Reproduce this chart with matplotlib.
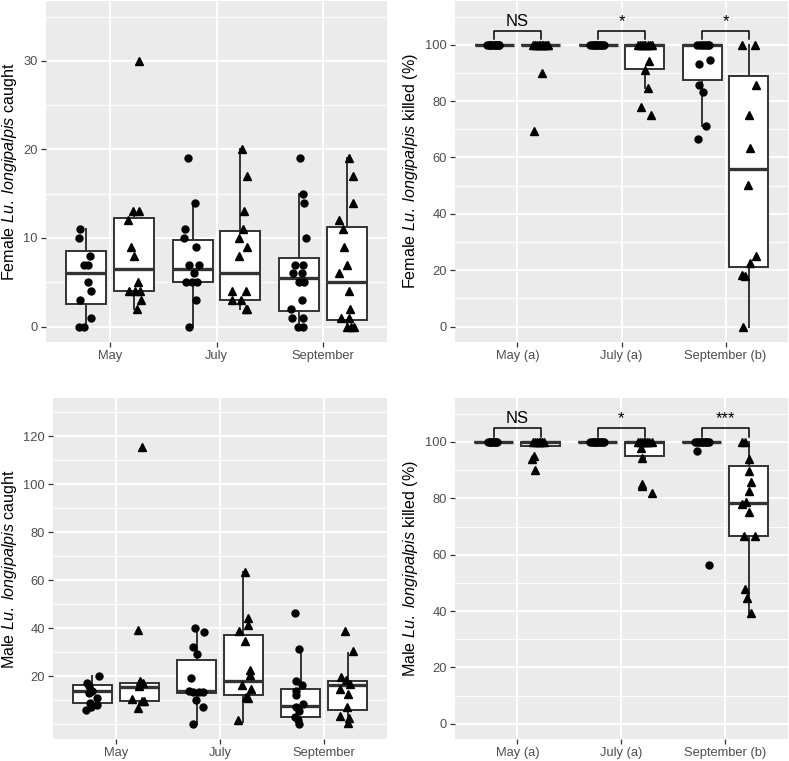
import matplotlib
matplotlib.use('Agg')
import matplotlib.pyplot as plt

plt.rcParams['font.family'] = ['Liberation Sans', 'DejaVu Sans']
plt.rcParams['mathtext.fontset'] = 'custom'
plt.rcParams['mathtext.rm'] = 'Liberation Sans'
plt.rcParams['mathtext.it'] = 'Liberation Sans:italic'

months = ['May', 'July', 'September']
months_sig = ['May (a)', 'July (a)', 'September (b)']

# ---- Female caught (circles = first group, triangles = second group) ----
fc_circ_vals = [
    [11, 10, 8, 7, 7, 5, 4, 3, 1, 0, 0],
    [19, 14, 11, 10, 9, 7, 7, 6, 5, 5, 5, 3, 0],
    [19, 15, 14, 10, 7, 7, 6, 6, 5, 5, 3, 2, 1, 1, 0, 0],
]
fc_circ_x = [
    [-0.283, -0.292, -0.188, -0.245, -0.207, -0.204, -0.179, -0.283, -0.182, -0.289, -0.248],
    [-0.267, -0.204, -0.295, -0.301, -0.192, -0.257, -0.160, -0.210, -0.283, -0.229, -0.185, -0.192, -0.261],
    [-0.217, -0.185, -0.179, -0.157, -0.267, -0.192, -0.283, -0.195, -0.226, -0.182, -0.201, -0.298,
     -0.295, -0.188, -0.232, -0.185],
]
fc_tri_vals = [
    [30, 13, 13, 12, 9, 8, 5, 4, 4, 4, 3, 2],
    [20, 17, 13, 11, 10, 9, 8, 4, 4, 3, 3, 2, 2],
    [19, 17, 14, 12, 11, 9, 7, 6, 4, 2, 1, 1, 0, 0, 0],
]
fc_tri_x = [
    [0.276, 0.220, 0.276, 0.170, 0.198, 0.229, 0.261, 0.182, 0.235, 0.286, 0.292, 0.257],
    [0.239, 0.289, 0.254, 0.251, 0.207, 0.286, 0.210, 0.148, 0.276, 0.148, 0.226, 0.273, 0.289],
    [0.242, 0.283, 0.283, 0.151, 0.188, 0.192, 0.223, 0.154, 0.248, 0.257, 0.166, 0.248, 0.226, 0.264, 0.292],
]
# box stats: whisker low, q1, median, q3, whisker high
fc_circ_box = [[0, 2.5, 6, 8.5, 11], [0, 5, 6.5, 9.75, 14], [0, 1.75, 5.5, 7.75, 15]]
fc_tri_box = [[2, 4, 6.5, 12.25, 13], [2, 3, 6, 10.75, 20], [0, 0.75, 5, 11.25, 19]]

# ---- Female killed (%) ----
fk_circ_vals = [
    [100, 100, 100, 100, 100, 100, 100, 100, 100, 100, 100, 100],
    [100, 100, 100, 100, 100, 100, 100, 100, 100, 100, 100, 100],
    [100, 100, 100, 100, 100, 100, 100, 94.5, 93.0, 85.6, 83.2, 71.2, 66.4],
]
fk_circ_x = [
    [-0.29, -0.27, -0.26, -0.245, -0.23, -0.22, -0.205, -0.19, -0.18, -0.175, -0.25, -0.21],
    [-0.30, -0.28, -0.265, -0.25, -0.235, -0.22, -0.21, -0.195, -0.18, -0.17, -0.24, -0.26],
    [-0.27, -0.25, -0.23, -0.21, -0.19, -0.17, -0.16, -0.152, -0.258, -0.252, -0.213, -0.187, -0.265],
]
fk_tri_vals = [
    [100, 100, 100, 100, 100, 100, 100, 100, 100, 100, 90, 69.3],
    [100, 100, 100, 100, 100, 100, 100, 100, 94.1, 90.9, 84.8, 77.9, 75.1],
    [100, 100, 85.8, 75.0, 63.4, 50.1, 25.1, 22.4, 18.3, 17.8, 0],
]
fk_tri_x = [
    [0.15, 0.17, 0.19, 0.205, 0.22, 0.235, 0.25, 0.265, 0.28, 0.29, 0.232, 0.158],
    [0.16, 0.18, 0.20, 0.215, 0.23, 0.25, 0.27, 0.29, 0.261, 0.226, 0.258, 0.184, 0.281],
    [0.161, 0.281, 0.290, 0.226, 0.239, 0.213, 0.290, 0.235, 0.155, 0.184, 0.168],
]
fk_circ_box = [[100, 100, 100, 100, 100], [100, 100, 100, 100, 100], [71.2, 87.4, 100, 100, 100]]
fk_tri_box = [[100, 100, 100, 100, 100], [84.8, 91.5, 100, 100, 100], [0, 21.0, 55.8, 88.9, 100]]

# ---- Male caught ----
mc_circ_vals = [
    [20, 17, 16, 14, 13, 11, 9, 8, 7, 6],
    [40.1, 38.2, 32.2, 29.2, 19.2, 14, 13.3, 13.3, 13.6, 10.2, 7.1, 0.2],
    [46.2, 31.2, 18.1, 16.3, 14, 12.1, 8.5, 7.1, 5.3, 2.9, 1.8, 0.2],
]
mc_circ_x = [
    [-0.157, -0.272, -0.262, -0.224, -0.259, -0.179, -0.252, -0.182, -0.240, -0.284],
    [-0.240, -0.150, -0.256, -0.220, -0.278, -0.297, -0.256, -0.198, -0.163, -0.227, -0.166, -0.262],
    [-0.278, -0.240, -0.275, -0.211, -0.268, -0.268, -0.204, -0.268, -0.243, -0.284, -0.256, -0.243],
]
mc_tri_vals = [
    [115.6, 39.3, 17.8, 17.1, 15.7, 10.4, 9.7, 9.7, 6.7],
    [63.3, 44.4, 41.4, 38.6, 34.6, 22.4, 20.6, 16.4, 14.5, 11.3, 10.8, 1.6],
    [38.6, 30.5, 19.6, 18.5, 16.8, 14.6, 12.4, 7.1, 3.5, 2.5, 0.4],
]
mc_tri_x = [
    [0.252, 0.217, 0.233, 0.265, 0.227, 0.157, 0.272, 0.256, 0.217],
    [0.243, 0.265, 0.268, 0.179, 0.236, 0.291, 0.291, 0.214, 0.294, 0.249, 0.268, 0.169],
    [0.201, 0.278, 0.163, 0.214, 0.252, 0.150, 0.227, 0.220, 0.147, 0.236, 0.230],
]
mc_circ_box = [[6, 8.8, 13.9, 16.3, 20], [0.2, 12.8, 13.9, 26.8, 40.1], [0.2, 3.1, 7.7, 14.6, 31.7]]
mc_tri_box = [[6.7, 9.7, 15.4, 17.1, 17.8], [1.1, 12.1, 18.1, 37.2, 63.3], [0.2, 6.0, 16.4, 18.1, 29.8]]

# ---- Male killed (%) ----
mk_circ_vals = [
    [100, 100, 100, 100, 100, 100, 100, 100, 100, 100],
    [100, 100, 100, 100, 100, 100, 100, 100, 100, 100, 100, 100],
    [100, 100, 100, 100, 100, 100, 100, 100, 100, 100, 96.7, 56.4],
]
mk_circ_x = [
    [-0.28, -0.265, -0.25, -0.24, -0.23, -0.22, -0.21, -0.2, -0.26, -0.215],
    [-0.30, -0.28, -0.265, -0.25, -0.235, -0.22, -0.21, -0.195, -0.18, -0.17, -0.24, -0.26],
    [-0.29, -0.27, -0.255, -0.24, -0.225, -0.21, -0.2, -0.185, -0.17, -0.16, -0.271, -0.155],
]
mk_tri_vals = [
    [100, 100, 100, 100, 100, 100, 100, 94.9, 94.0, 90.2],
    [100, 100, 100, 100, 100, 100, 100, 100, 97.9, 94.2, 85.0, 84.5, 81.9],
    [100, 100, 94.0, 89.6, 85.8, 82.5, 78.6, 77.9, 75.1, 66.8, 66.8, 47.7, 44.5, 39.2],
]
mk_tri_x = [
    [0.15, 0.17, 0.19, 0.205, 0.22, 0.24, 0.26, 0.161, 0.145, 0.171],
    [0.16, 0.18, 0.20, 0.215, 0.23, 0.25, 0.27, 0.29, 0.187, 0.197, 0.194, 0.203, 0.297],
    [0.161, 0.194, 0.226, 0.232, 0.245, 0.226, 0.197, 0.161, 0.229, 0.181, 0.281, 0.194, 0.210, 0.248],
]
mk_circ_box = [[100, 100, 100, 100, 100], [100, 100, 100, 100, 100], [100, 100, 100, 100, 100]]
mk_tri_box = [[98.4, 98.4, 100, 100, 100], [94.2, 94.9, 100, 100, 100], [39.2, 66.6, 78.5, 91.5, 100]]

sig_female = ['NS', '*', '*']
sig_male = ['NS', '*', '***']

DODGE = 0.225
BOXW = 0.375
DARK = '#333333'


def box_stats(rows):
    out = []
    for lo, q1, med, q3, hi in rows:
        out.append(dict(whislo=lo, q1=q1, med=med, q3=q3, whishi=hi, fliers=[]))
    return out


def draw_panel(ax, cvals, cx, tvals, tx, cbox, tbox, ylim, majors, minors, xlabels):
    ax.set_facecolor('#EBEBEB')
    for s in ax.spines.values():
        s.set_visible(False)
    ax.set_xlim(-0.6, 2.6)
    ax.set_ylim(*ylim)
    ax.set_xticks(range(3))
    ax.set_xticklabels(xlabels)
    ax.set_yticks(majors)
    ax.set_yticks(minors, minor=True)
    ax.grid(which='major', color='white', lw=1.3)
    ax.grid(which='minor', axis='y', color='white', lw=0.65)
    ax.set_axisbelow(True)
    ax.tick_params(which='major', length=3.3, width=0.9, color=DARK, labelcolor='#4D4D4D',
                   labelsize=9.3, pad=2.5)
    ax.tick_params(which='minor', length=0)

    props = dict(widths=BOXW, showcaps=False, showfliers=False, patch_artist=True,
                 manage_ticks=False, zorder=2,
                 boxprops=dict(facecolor='white', edgecolor=DARK, lw=1.4),
                 medianprops=dict(color=DARK, lw=2.4, solid_capstyle='butt'),
                 whiskerprops=dict(color=DARK, lw=1.4))
    ax.bxp(box_stats(cbox), positions=[i - DODGE for i in range(3)], **props)
    ax.bxp(box_stats(tbox), positions=[i + DODGE for i in range(3)], **props)

    for i in range(3):
        ax.plot([i + d for d in cx[i]], cvals[i], 'o', color='black', ms=5.0, zorder=3)
        ax.plot([i + d for d in tx[i]], tvals[i], '^', color='black', ms=5.8, zorder=3)


def draw_sig(ax, labels):
    for i, lab in enumerate(labels):
        ax.plot([i - DODGE, i - DODGE, i + DODGE, i + DODGE], [101.9, 104.8, 104.8, 101.9],
                color='black', lw=1.1, zorder=4)
        ax.text(i, 106.6, lab, ha='center', va='baseline', fontsize=12, color='black')


W, H = 789, 761
fig = plt.figure(figsize=(W / 100, H / 100), dpi=100)


def add_ax(x0, x1, y0, y1):
    return fig.add_axes([x0 / W, 1 - y1 / H, (x1 - x0) / W, (y1 - y0) / H])


ax1 = add_ax(46, 387, 1, 342)
ax2 = add_ax(455, 788, 1, 342)
ax3 = add_ax(53.3, 386.7, 398.3, 739.3)
ax4 = add_ax(455, 787.7, 398.3, 739.3)

draw_panel(ax1, fc_circ_vals, fc_circ_x, fc_tri_vals, fc_tri_x, fc_circ_box, fc_tri_box,
           (-1.75, 36.75), [0, 10, 20, 30], [5, 15, 25, 35], months)
draw_panel(ax2, fk_circ_vals, fk_circ_x, fk_tri_vals, fk_tri_x, fk_circ_box, fk_tri_box,
           (-5.5, 115.5), [0, 20, 40, 60, 80, 100], [10, 30, 50, 70, 90, 110], months_sig)
draw_panel(ax3, mc_circ_vals, mc_circ_x, mc_tri_vals, mc_tri_x, mc_circ_box, mc_tri_box,
           (-6.3, 135.7), [20, 40, 60, 80, 100, 120], [0, 10, 30, 50, 70, 90, 110, 130], months)
draw_panel(ax4, mk_circ_vals, mk_circ_x, mk_tri_vals, mk_tri_x, mk_circ_box, mk_tri_box,
           (-5.5, 115.5), [0, 20, 40, 60, 80, 100], [10, 30, 50, 70, 90, 110], months_sig)
draw_sig(ax2, sig_female)
draw_sig(ax4, sig_male)

species = r'$\mathit{Lu.\ longipalpis}$'
lab_kw = dict(rotation=90, ha='center', va='center', fontsize=11.6, color='black')
fig.text(9.5 / W, 1 - 171.5 / H, 'Female ' + species + ' caught', **lab_kw)
fig.text(410 / W, 1 - 171.5 / H, 'Female ' + species + ' killed (%)', **lab_kw)
fig.text(9.5 / W, 1 - 568.8 / H, 'Male ' + species + ' caught', **lab_kw)
fig.text(410 / W, 1 - 568.8 / H, 'Male ' + species + ' killed (%)', **lab_kw)

fig.savefig('out.png', dpi=100)
